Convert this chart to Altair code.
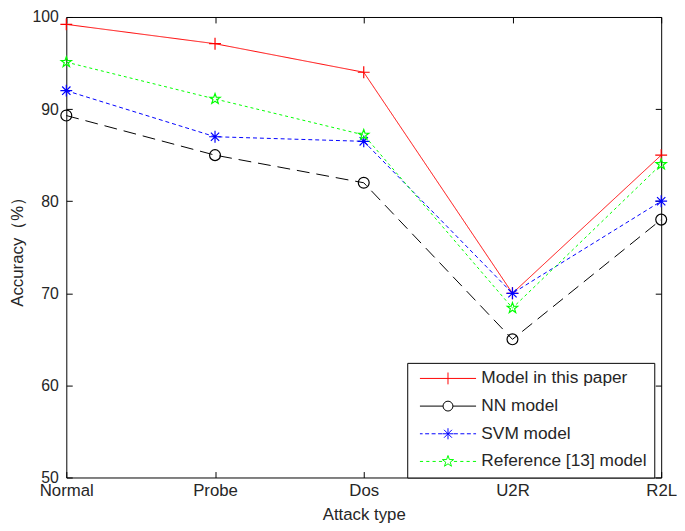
import math
import altair as alt
import pandas as pd

# ---------------- data ----------------
categories = ["Normal", "Probe", "Dos", "U2R", "R2L"]
series_names = ["Model in this paper", "NN model", "SVM model", "Reference [13] model"]
model_this_paper = [99.2, 97.1, 94.0, 70.0, 85.0]
nn_model = [89.3, 85.0, 82.0, 65.0, 78.0]
svm_model = [92.0, 87.0, 86.5, 70.0, 80.0]
reference13_model = [95.1, 91.1, 87.2, 68.4, 84.0]
y_ticks = [50, 60, 70, 80, 90, 100]

series_values = [model_this_paper, nn_model, svm_model, reference13_model]
rows = []
for name, vals in zip(series_names, series_values):
    for c, v in zip(categories, vals):
        rows.append({"attack": c, "accuracy": v, "series": name})
df = pd.DataFrame(rows)

# ---------------- style ----------------
W, H = 602, 466
FONT = "Liberation Sans"
TXT = "#262626"
colors = ["#ff0000", "#000000", "#0000ff", "#00ff00"]
dashes = [[1, 0], [13, 7], [4, 3], [3, 3]]
TICK_LEN = 6
TICK_COL = "#000000"


def star_path(r_out=1.0, r_in=0.4):
    pts = []
    for k in range(10):
        ang = -math.pi / 2 + k * math.pi / 5
        r = r_out if k % 2 == 0 else r_in
        pts.append((r * math.cos(ang), r * math.sin(ang)))
    return "M" + "L".join(f"{x:.3f},{y:.3f}" for x, y in pts) + "Z"


PLUS = "M-1,0H1M0,-1V1"
ASTER = "M-1,0H1M0,-1V1M-0.7,-0.7L0.7,0.7M-0.7,0.7L0.7,-0.7"
STAR = star_path()
marker_shapes = [PLUS, "circle", ASTER, STAR]
marker_sizes = [144, 121, 144, 121]

# legend glyphs (unit = 8px, symbol size 256)
L = 3.55


def dashed_both(inner, dash, gap):
    right = []
    x = inner
    while x < L - 1e-6:
        e = min(x + dash, L)
        right.append((x, e))
        x = e + gap
    s = ""
    for a, b in right:
        s += f"M{a:.3f},0H{b:.3f}M{-b:.3f},0H{-a:.3f}"
    return s


leg_red = f"M{-L},0H{L}M0,-0.75V0.75"
leg_black = (f"M{-L},0H-0.625M0.625,0H{L}"
             "M0.625,0A0.625,0.625 0 1 1 -0.625,0A0.625,0.625 0 1 1 0.625,0")
leg_blue = dashed_both(0.75, 0.5, 0.32) + "M-0.7,0H0.7M0,-0.7V0.7M-0.5,-0.5L0.5,0.5M-0.5,0.5L0.5,-0.5"
leg_green = dashed_both(0.75, 0.4, 0.4) + star_path(0.75, 0.3)
legend_paths = [leg_red, leg_black, leg_blue, leg_green]

xscale = alt.Scale(type="point", domain=categories, padding=0)
yscale = alt.Scale(domain=[50, 100], nice=False, zero=False)

ax_x_main = alt.Axis(orient="bottom", ticks=False, tickSize=0, domain=False, grid=False,
                     labelAngle=0, labelFontSize=17, labelFont=FONT, labelColor=TXT,
                     labelPadding=5, title="Attack type", titleFontSize=17, titleFont=FONT,
                     titleFontWeight="normal", titleColor=TXT, titlePadding=9)
ax_y_main = alt.Axis(orient="left", values=y_ticks, ticks=False, tickSize=0, domain=False,
                     grid=False, labelFontSize=16, labelFont=FONT, labelColor=TXT,
                     labelPadding=8, title="Accuracy（%）", titleFontSize=17, titleFont=FONT,
                     titleFontWeight="normal", titleColor=TXT, titlePadding=6)
# inward ticks along the four sides of the frame
ax_x_in_bottom = alt.Axis(orient="top", offset=-H, ticks=True, tickSize=TICK_LEN, tickColor=TICK_COL,
                          tickWidth=1, labels=False, domain=False, grid=False, title=None)
ax_x_in_top = alt.Axis(orient="bottom", offset=-H, ticks=True, tickSize=TICK_LEN, tickColor=TICK_COL,
                       tickWidth=1, labels=False, domain=False, grid=False, title=None)
ax_y_in_left = alt.Axis(orient="right", offset=-W, values=y_ticks, ticks=True, tickSize=TICK_LEN,
                        tickColor=TICK_COL, tickWidth=1, labels=False, domain=False, grid=False,
                        title=None)
ax_y_in_right = alt.Axis(orient="left", offset=-W, values=y_ticks, ticks=True, tickSize=TICK_LEN,
                         tickColor=TICK_COL, tickWidth=1, labels=False, domain=False, grid=False,
                         title=None)

axis_plan = [
    (ax_x_main, ax_y_main),
    (ax_x_in_bottom, ax_y_in_left),
    (ax_x_in_top, ax_y_in_right),
]

layers = []
k = 0
for i, name in enumerate(series_names):
    base = alt.Chart(df).transform_filter(alt.datum.series == name)
    for kind in ("line", "point"):
        if k < len(axis_plan):
            axx, axy = axis_plan[k]
        else:
            axx, axy = None, None
        k += 1
        enc = dict(
            x=alt.X("attack:N", scale=xscale, axis=axx, sort=categories),
            y=alt.Y("accuracy:Q", scale=yscale, axis=axy),
        )
        if kind == "line":
            m = base.mark_line(color=colors[i], strokeWidth=1, strokeDash=dashes[i])
        else:
            m = base.mark_point(color=colors[i], filled=False, strokeWidth=1.2,
                                shape=marker_shapes[i], size=marker_sizes[i], opacity=1)
        layers.append(m.encode(**enc))

legend = alt.Legend(orient="none", legendX=345, legendY=350, title=None,
                    fillColor="white", strokeColor="black", cornerRadius=0,
                    padding=7, rowPadding=9, symbolSize=256, symbolStrokeWidth=1,
                    symbolOffset=25.5, labelOffset=25, labelFont=FONT, labelFontSize=17.5,
                    labelLimit=400, labelColor=TXT, symbolFillColor="transparent")

legend_layer = alt.Chart(df).transform_filter("false").mark_point(
    filled=False, size=256, strokeWidth=1, opacity=1
).encode(
    x=alt.X("attack:N", scale=xscale, axis=None),
    y=alt.Y("accuracy:Q", scale=yscale, axis=None),
    color=alt.Color("series:N", scale=alt.Scale(domain=series_names, range=colors), legend=legend),
    shape=alt.Shape("series:N", scale=alt.Scale(domain=series_names, range=legend_paths), legend=legend),
)

chart = alt.layer(*layers, legend_layer).resolve_axis(
    x="independent", y="independent"
).properties(
    width=W, height=H,
    autosize=alt.AutoSizeParams(type="none"),
    padding={"left": 59, "top": 6, "right": 16, "bottom": 48},
    background="white",
).configure_view(stroke="black", strokeWidth=1)

chart.save("out.html", embed_options={"renderer": "svg", "actions": False})
